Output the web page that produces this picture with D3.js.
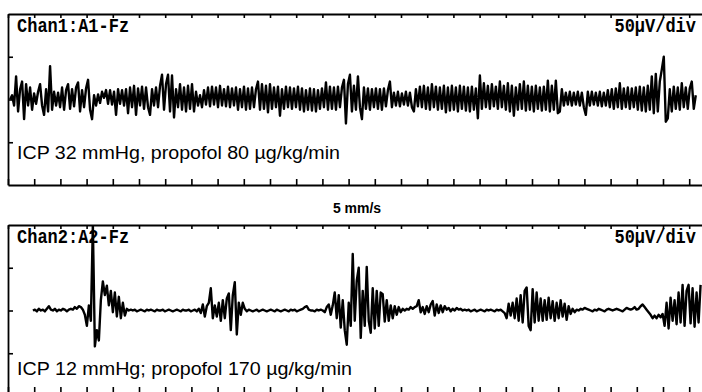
<!DOCTYPE html>
<html>
<head>
<meta charset="utf-8">
<script src="https://cdnjs.cloudflare.com/ajax/libs/d3/7.8.5/d3.min.js"></script>
<style>
  body { margin: 0; background: #fff; }
  svg { display: block; }
  .mono { font-family: "Liberation Mono", "DejaVu Sans Mono", monospace; font-weight: bold; font-size: 17px; }
  .note { font-family: "Liberation Sans", Arial, sans-serif; }
</style>
</head>
<body>
<div id="chart"></div>
<script>
// EEG samples in µV, one every dt seconds (1 s per grid division)
const dt = 0.0763;
const chan1Start = 0.08;
const chan2Start = 0.95;

const chan1 = [
  0, 5, -7, 27, -14, 12, 21, -23, 18, -7,
  14, -12, 7, -5, 9, 18, -7, -18, 12, -14,
  39, -12, 9, -7, 8, -9, 14, -12, 11, 18,
  -11, 12, -8, 14, 20, -14, 11, -9, 13, 23,
  -12, -23, 5, -7, 6, -4, 9, 2, 11, -5,
  11, -6, 9, -18, 12, -5, 11, -7, 12, -16,
  14, -9, 16, -18, 13, -7, 15, -11, 14, -9,
  -18, 12, -7, 14, -9, 16, 29, -12, 18, 29,
  -14, 28, -21, 12, -9, 18, -12, 14, -14, 16,
  -11, 18, -14, 9, -7, 5, -9, 11, -6, 14,
  -8, 15, -6, 14, -9, 16, -7, 12, -8, 15,
  -9, 13, -7, 14, -12, 12, -9, 15, -12, 13,
  -11, 14, -9, 12, 21, -12, 18, -11, 16, -15,
  18, -11, 14, -9, 15, -19, 12, -11, 15, -9,
  14, -11, 13, -9, 15, -12, 13, -14, 11, -12,
  13, -13, 12, -14, 11, -11, 13, -9, 20, -12,
  15, -11, 14, -12, 15, -9, 14, 23, -28, 18,
  29, -14, 16, -12, 27, -9, -23, 14, -11, 13,
  -12, 12, -9, 13, -11, 12, -12, 13, -8, 11,
  21, -9, 8, -7, 9, -8, 7, -6, 9, -7,
  8, -9, -14, 12, -8, 15, -9, 16, -11, 14,
  -12, 18, -9, 15, -12, 14, -11, 16, -15, 14,
  -13, 16, -12, 14, -14, 16, -11, 15, -13, 14,
  -14, 15, -12, 13, -22, 28, -11, 19, -9, 16,
  -11, 18, -8, 15, -11, 21, -9, 16, -12, 19,
  -14, 16, -19, 14, -12, 18, -11, 21, -13, 16,
  -12, 15, -14, 16, -11, 14, -13, 15, -12, 22,
  -14, 16, -12, 22, -16, -14, 12, -7, 8, -6,
  9, -7, 8, -6, 9, -7, 8, -9, -18, 9,
  -7, 9, -6, 8, -7, 9, -8, 8, -7, 11,
  -9, 12, -11, 13, -9, 19, -11, 13, -9, 14,
  -11, 13, -9, 14, -12, 15, -13, 14, -14, 16,
  -12, 27, -16, 30, -14, 21, 35, 50, -26, -22,
  12, -14, 15, -11, 14, -12, 19, -9, 14, -11,
  13, 21, -11, 5
];

const chan2 = [
  0, 1, -1, 2, 0, 1, -1, 2, 5, 1,
  0, 2, -1, 1, 0, 2, 1, -1, 1, 2,
  1, 4, 2, 5, 4, 1, -5, -18, 6, -12,
  100, -42, -23, -35, 12, 34, 18, 29, 6, 23,
  -2, 21, -7, 16, -9, 9, -6, 2, 0, 1,
  0, 1, -1, 0, 1, 0, -1, 1, 0, 1,
  0, -1, 1, 0, 0, 1, -1, 0, 1, 0,
  -1, 0, 1, 0, -1, 1, 0, 0, 1, -1,
  0, 1, -1, 2, -3, 7, -7, 5, 9, 26,
  -9, 6, -7, 9, -12, 12, -9, 14, 20, -23,
  18, 33, -28, 9, -5, 9, 2, -1, 1, 0,
  -1, 0, 1, -1, 0, 1, 0, -1, 0, 1,
  0, -1, 1, 0, -1, 0, 1, 0, -1, 1,
  0, 1, -1, 0, 1, 2, 4, 5, 1, 0,
  0, -1, 1, 0, 1, 0, -2, 4, 7, -5,
  6, 21, -9, 18, -20, 12, -23, -40, 9, -18,
  66, -12, 35, 50, -32, 23, -18, 51, -12, -26,
  26, -21, 23, -18, 21, 19, -13, 12, -12, 6,
  -9, 5, -5, 4, -2, 2, 0, 2, 1, 4,
  2, 4, 5, 12, -2, 4, -4, 5, -2, 7,
  11, -6, 7, -3, 6, -2, 5, 1, 3, -1,
  2, 0, 3, 1, 2, 0, 1, 0, 1, -1,
  0, 1, -1, 0, 1, 0, -1, 1, 0, 1,
  0, -1, 1, 0, 1, -1, -3, -9, 8, -6,
  9, -9, 14, -12, 18, -14, 23, 27, -18, -23,
  25, -14, 21, -12, 14, -12, 12, -11, 15, -9,
  11, -12, 9, -9, 12, -7, 8, -11, 5, -4,
  2, -2, 1, 0, 2, 1, 3, 2, 1, 0,
  -1, 1, 0, 2, 1, 0, -1, 1, 2, 1,
  0, 1, 2, 1, 0, -1, 1, 3, 2, 1,
  2, 4, 1, 2, 5, 7, 4, 1, -2, -5,
  -9, -6, -9, -5, -8, -4, -18, 9, -21, 15,
  -12, 12, -16, 21, -14, 30, -18, 23, 30, -15,
  26, -19, 21, -14, 30
];

const timeTicks = d3.range(0, 27);
const voltTicks = [-50, 0, 50];
const sensitivity = "50µV/div";
const sweepSpeed = "5 mm/s";

const panels = [
  { name: "Chan1:A1-Fz", note: "ICP 32 mmHg, propofol 80 µg/kg/min", data: chan1, start: chan1Start, top: 14, bottom: 171, noteY: 145, noteW: 323 },
  { name: "Chan2:A2-Fz", note: "ICP 12 mmHg; propofol 170 µg/kg/min", data: chan2, start: chan2Start, top: 225, bottom: 168, noteY: 150, noteW: 335 }
];

const width = 702,
    height = 392,
    panelH = 171;

const svg = d3
    .select("#chart")
    .append("svg")
    .attr("width", width)
    .attr("height", height);

const x = d3.scaleLinear().domain([0, 26.5]).range([8, 702.3]);
const y = d3.scaleLinear().domain([-100, 100]).range([panelH, 0]);

svg.append("defs")
    .append("clipPath")
    .attr("id", "box")
    .append("rect")
    .attr("x", 8)
    .attr("y", 0)
    .attr("width", 700)
    .attr("height", panelH);

panels.forEach((p) => {
    const g = svg.append("g").attr("transform", `translate(0,${p.top})`);

    // frame = domain lines of the axes, ticks pointing inwards
    g.append("g")
        .call(d3.axisBottom(x).tickValues(timeTicks).tickSize(4).tickSizeOuter(0).tickFormat(""));
    g.append("g")
        .attr("transform", `translate(0,${p.bottom})`)
        .call(d3.axisTop(x).tickValues(timeTicks).tickSize(6).tickSizeOuter(0).tickFormat(""));
    g.append("g")
        .attr("transform", `translate(${x(0)},0)`)
        .call(d3.axisRight(y).tickValues(voltTicks).tickSize(5).tickSizeOuter(0).tickFormat(""));

    g.selectAll(".domain").attr("stroke", "#000").attr("stroke-width", 1.8);
    g.selectAll(".tick line").attr("stroke", "#000").attr("stroke-width", 1.6);

    const line = d3
        .line()
        .x((d, i) => x(p.start + i * dt))
        .y((d) => y(d));

    g.append("path")
        .datum(p.data)
        .attr("clip-path", "url(#box)")
        .attr("fill", "none")
        .attr("stroke", "#000")
        .attr("stroke-width", 2.4)
        .attr("stroke-linejoin", "round")
        .attr("d", line);

    // bitmap-style labels: mono face stretched vertically
    g.append("text")
        .attr("class", "mono")
        .attr("transform", "translate(17,18) scale(1,1.2)")
        .text(p.name);

    g.append("text")
        .attr("class", "mono")
        .attr("transform", "translate(696,18) scale(1,1.2)")
        .attr("text-anchor", "end")
        .text(sensitivity);

    g.append("text")
        .attr("class", "note")
        .attr("x", 17)
        .attr("y", p.noteY)
        .attr("font-size", 18)
        .attr("textLength", p.noteW)
        .attr("lengthAdjust", "spacingAndGlyphs")
        .text(p.note);
});

svg.append("text")
    .attr("x", 357)
    .attr("y", 213)
    .attr("text-anchor", "middle")
    .attr("font-family", "Liberation Sans, Arial, sans-serif")
    .attr("font-weight", "bold")
    .attr("font-size", 14)
    .text(sweepSpeed);
</script>
</body>
</html>
